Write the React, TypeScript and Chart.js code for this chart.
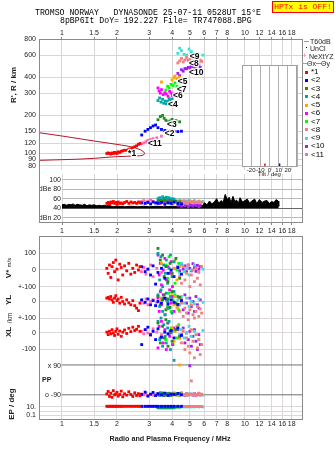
import React, { useEffect, useRef } from 'react';
import { Chart, registerables } from 'chart.js';
Chart.register(...registerables);

// ---------- data ----------
const titleLine1 = 'TROMSO NORWAY   DYNASONDE 25-07-11 0528UT 15°E';
const titleLine2 = '8pBP6It DoY= 192.227 File= TR747088.BPG';
const freqTicks = [1, 1.5, 2, 3, 4, 5, 6, 7, 8, 10, 12, 14, 16, 18];
const rangeTicks = [80, 90, 100, 120, 150, 200, 300, 400, 600, 800];
const dbTicks = [20, 40, 60, 80, 100];
const dbTickLabels = ['dBn 20', '40', '60', 'dBe 80', '100'];
const tiltTicks = [-30, -20, -10, 0, 10, 20, 30];

const seriesNames = ['*1', '<2', '<3', '<4', '<5', '<6', '<7', '<8', '<9', '<10', '<11'];
const seriesColors = ['#ff0000', '#0000ff', '#228b22', '#00a6a6', '#ffa500', '#ff00ff', '#00ff00', '#f08080', '#40e0d0', '#a020f0', '#ff69b4'];

// rows: [freq MHz, R' km, dBe, V* m/s, YL km, XL km, PP deg, EP deg]
const echoes1 = [
  [1.76, 100, 50, 10, 20, 5, -85, 14], [1.79, 101, 52, -20, 25, -10, -70, 14], [1.82, 100, 49, 30, 15, 10, -100, 14],
  [1.85, 99, 53, -45, 30, -5, -80, 14], [1.88, 101, 51, 20, 10, 20, -105, 14], [1.91, 100, 54, 45, -5, 0, -65, 14],
  [1.94, 102, 50, -10, 20, -15, -90, 14], [1.97, 101, 52, 60, 35, 10, -85, 14], [2.0, 100, 48, 5, 5, 25, -75, 14],
  [2.03, 103, 53, -60, 15, -8, -98, 14], [2.07, 102, 50, 35, -10, 12, -88, 14], [2.11, 104, 51, 15, 25, -20, -68, 14],
  [2.15, 105, 49, -30, 0, 5, -102, 14], [2.2, 106, 52, 25, -15, 18, -84, 14], [2.26, 106, 54, -5, 10, -3, -92, 14],
  [2.32, 108, 50, 40, -8, 28, -72, 14], [2.38, 109, 53, -25, -20, 8, -88, 14], [2.44, 111, 51, 10, 5, 35, -100, 14],
  [2.5, 113, 52, -15, -25, 15, -78, 14], [2.56, 115, 50, 30, -40, 22, -94, 14], [2.62, 118, 53, 0, -55, 40, -83, 14],
  [2.67, 120, 51, 20, -10, 10, -96, 14],
];
const echoes2 = [
  [2.73, 140, 51, 20, 10, -70, -88, 14], [2.85, 150, 50, -10, -5, 20, -74, 14], [2.95, 155, 52, 5, 15, 35, -98, 14],
  [3.05, 160, 49, -30, -20, -10, -86, 14], [3.15, 165, 53, 25, 5, 10, -76, 14], [3.25, 168, 51, -85, -25, -40, -95, 14],
  [3.35, 160, 50, -15, 0, 25, -84, 14], [3.5, 155, 52, 10, -10, -25, -90, 14], [3.65, 152, 48, -50, 20, 5, -80, 14],
  [3.8, 150, 51, -20, -15, -5, -94, 14], [3.95, 152, 50, 0, 10, 15, -86, 14], [4.1, 150, 53, -40, -5, -30, -88, 14],
  [4.3, 149, 50, 15, -18, 30, -82, 14], [4.5, 150, 49, -25, 5, -15, -90, 14],
];
const echoes3 = [
  [3.35, 185, 55, 130, 30, 60, -85, 10], [3.45, 196, 56, 60, -20, -60, -90, 10], [3.55, 200, 54, 90, 10, 40, -80, 10],
  [3.62, 190, 57, -40, 40, -30, -95, 10], [3.7, 183, 55, 20, -50, 80, -88, 10], [3.8, 178, 53, -70, 15, -80, -84, 10],
  [3.9, 181, 56, 40, -35, 10, -92, 10], [4.0, 186, 54, -20, 60, -50, -86, 10], [4.2, 182, 55, 70, -10, 20, -90, 10],
  [4.4, 178, 53, -50, 25, -20, -82, 10],
];
const echoes4 = [
  [3.35, 262, 60, 100, 40, 70, -85, 6], [3.42, 275, 62, -60, -30, -40, -92, 6], [3.48, 255, 58, 80, 70, 90, -80, 6],
  [3.55, 268, 64, -100, -60, -80, -88, 6], [3.6, 250, 61, 30, 20, 50, -95, 6], [3.67, 260, 59, -20, -80, -20, -84, 6],
  [3.72, 247, 63, 60, 50, -60, -90, 6], [3.78, 258, 60, -80, 0, 30, -86, 6], [3.85, 272, 62, 10, -40, 70, -82, 6],
  [3.92, 265, 58, 90, 30, -100, -94, 6], [4.0, 270, 60, -40, -70, 10, -88, 6], [4.1, 252, 59, 50, 60, -165, -85, 6],
];
const echoes5 = [
  [3.5, 368, 52, 40, 10, -20, -85, 12], [4.0, 382, 53, -30, 50, 30, -90, 12], [4.1, 398, 51, 10, -20, -50, -80, 12],
  [4.15, 410, 54, 60, 30, 10, -88, 12], [4.25, 392, 52, -60, -40, 40, -92, 12], [4.4, 400, 53, 20, 20, -30, 90, 12],
];
const echoes6 = [
  [3.35, 330, 52, 90, 20, -90, -85, 10], [3.4, 312, 55, -30, -60, 40, -92, 10], [3.45, 300, 50, 40, 60, -30, -78, 10],
  [3.5, 320, 54, -90, -20, 70, -88, 10], [3.58, 292, 56, 0, 40, -60, -95, 10], [3.65, 302, 51, 70, -80, 20, -84, 10],
  [3.72, 296, 53, -60, 10, -100, -90, 10], [3.8, 284, 55, 20, -40, 60, -82, 10], [3.88, 310, 52, -20, 70, -20, -94, 10],
  [3.95, 300, 54, 50, -10, 0, -86, 10], [4.02, 288, 50, -100, 30, -70, -90, 10], [4.1, 296, 53, 10, -60, 30, -80, 10],
];
const echoes7 = [
  [3.7, 318, 52, 30, 20, -40, -85, 10], [3.78, 340, 54, -50, -30, 60, -90, 10], [3.85, 330, 51, 80, 50, -10, -80, 10],
  [3.95, 352, 53, -10, -60, 30, -94, 10], [4.05, 345, 50, 50, 10, -70, -86, 10], [4.15, 362, 54, -80, 40, 20, -88, 10],
  [4.25, 340, 52, 0, -20, -30, -82, 10], [4.35, 372, 53, 40, -50, 50, -92, 10],
];
const echoes8 = [
  [4.3, 520, 53, 10, -30, 40, -85, 12], [4.4, 540, 52, -40, -60, -20, -90, 12], [4.5, 565, 55, -80, -10, -60, -80, 12],
  [4.6, 530, 51, 20, -90, 10, -88, 12], [4.7, 550, 54, -60, -40, -100, -94, 12], [4.8, 575, 50, -20, -70, -30, -84, 12],
  [4.9, 545, 53, 30, -110, -80, -92, 12], [5.0, 560, 55, -100, -50, -120, -86, 12], [5.1, 535, 52, -30, -20, 20, -6, 12],
  [5.2, 545, 54, 0, -80, -50, -90, 12], [5.3, 555, 51, -70, -100, -150, -82, 12], [5.4, 550, 53, 10, -60, -10, -94, 12],
  [5.5, 540, 52, -50, -30, -90, -88, 12], [5.6, 530, 54, -10, -90, -40, -80, 12], [5.7, 548, 51, -90, -45, -130, -92, 12],
  [5.8, 535, 53, 20, -70, -70, -86, 12],
];
const echoes9 = [
  [4.3, 620, 55, 20, 10, 30, -85, 10], [4.4, 680, 57, -20, -20, -10, -90, 10], [4.5, 650, 54, 40, 30, 20, -80, 10],
  [4.65, 610, 56, -10, -10, -30, -88, 10], [4.8, 600, 55, 10, 20, 0, -94, 10], [4.95, 670, 57, -30, -30, 40, -84, 10],
  [5.1, 640, 54, 0, 0, -20, -90, 10], [5.3, 620, 56, 30, -15, 10, -86, 10], [5.6, 610, 55, -15, 15, -40, -82, 10],
  [5.9, 600, 54, 5, -5, 15, -92, 10],
];
const echoes10 = [
  [4.3, 430, 46, 20, 30, 20, -85, 12], [4.4, 412, 48, -5, -20, -30, -92, 12], [4.5, 460, 44, 35, 10, -10, -80, 12],
  [4.6, 448, 50, 5, -50, 30, -88, 12], [4.7, 470, 45, 25, 40, -60, -95, 12], [4.8, 468, 47, -10, -10, 0, -84, 12],
  [4.9, 480, 43, 30, -70, -40, -90, 12], [5.0, 475, 49, 10, 20, 10, 85, 12], [5.1, 490, 46, -5, -30, -80, -86, 12],
  [5.2, 485, 44, 38, 0, -20, -92, 12], [5.3, 470, 48, 15, -60, 20, -82, 12], [5.4, 472, 45, -8, 30, -50, -94, 12],
  [5.5, 495, 47, 28, -20, -100, -88, 12], [5.6, 500, 43, 5, -40, -10, -84, 12], [5.7, 480, 46, 20, 10, -70, -90, 12],
];
const echoes11 = [
  [2.72, 119, 54, -10, 5, 10, -85, 12], [2.8, 121, 56, 15, -10, -5, -90, 12], [2.88, 124, 53, -25, 15, 20, -80, 12],
  [2.95, 127, 55, 5, -20, 0, -95, 12], [3.05, 129, 57, 30, 0, -15, -88, 12], [3.15, 131, 54, -40, 10, 25, -92, 12],
  [3.3, 133, 52, 10, -5, 5, -84, 12], [3.5, 137, 53, -15, 20, -10, -90, 12],
];
const allEchoes = [echoes1, echoes2, echoes3, echoes4, echoes5, echoes6, echoes7, echoes8, echoes9, echoes10, echoes11];

// cluster label anchor [freq, R']
const labelAnchors = [[2.3, 100], [3.65, 143], [3.75, 170], [3.8, 244], [4.3, 367], [4.05, 286], [4.25, 322], [4.95, 514], [5.0, 585], [4.95, 434], [2.95, 120]];

// model trace (freq, R')
const traceFreq = [0.75, 1.0, 1.5, 2.0, 2.27, 2.5, 2.7, 2.8, 2.83, 2.8, 2.7, 2.5, 2.25, 2.0, 1.83, 1.5, 1.2, 1.0, 0.75];
const traceRange = [146, 137.5, 125.5, 118, 114.6, 111, 106.7, 103, 100, 97.5, 96, 95.5, 95, 94.3, 93.6, 91.5, 90, 89.3, 88.2];

// noise amplitude (freq, dB)
const noiseFreq = [1.0, 1.03, 1.06, 1.09, 1.12, 1.15, 1.18, 1.21, 1.25, 1.29, 1.33, 1.37, 1.41, 1.45, 1.5, 1.55, 1.6, 1.65, 1.7, 1.75, 1.8, 1.9, 2.0, 2.2, 2.4, 2.6, 2.8, 3.0, 3.3, 3.6, 4.0, 4.5, 5.0, 5.5, 5.9, 6.0, 6.2, 6.4, 6.6, 6.8, 7.0, 7.2, 7.4, 7.6, 7.8, 8.0, 8.2, 8.4, 8.6, 8.8, 9.0, 9.2, 9.4, 9.7, 10.0, 10.3, 10.6, 10.9, 11.3, 11.6, 12.0, 12.4, 12.8, 13.2, 13.6, 14.0, 14.4, 14.8, 15.2, 15.3];
const noiseDb = [47, 48, 46, 48, 47, 49, 46, 48, 47, 46, 48, 45, 47, 46, 47, 45, 46, 45, 46, 45, 46, 43, 44, 43, 44, 43, 44, 43, 44, 43, 44, 43, 44, 45, 46, 52, 47, 55, 49, 53, 60, 50, 56, 52, 69, 58, 63, 52, 65, 54, 57, 50, 62, 53, 56, 59, 51, 55, 59, 50, 58, 52, 55, 56, 50, 54, 52, 58, 55, 44];

const tiltValues = [-5, 11];
const tiltColors = ['#ff0000', '#0000ff'];

// lower panel stacking (V*, YL, XL, PP, EP share one axis)
const vOffset = 380, ylOffset = 190, xlOffset = 0, ppOffset = -283, epOffset = -470.8, epScale = 24.8;
const lowerTicks = [480, 380, 280, 190, 90, 0, -100, -446, -470.8, -495.6];
const lowerTickLabels = ['100', '0', '+-100', '0', '+-100', '0', '-100', '10.', '', '0.1'];

// ---------- helpers ----------
const FONT = 'Liberation Sans';
const tickFont = { family: FONT, size: 7 };
const epToU = (ep: number) => epOffset + epScale * Math.log10(ep);

function freqAxis(min: number, position: string, height: number, drawTicks: boolean, tickLength: number, padding: number, gridColor: string) {
  return {
    type: 'logarithmic', position, min, max: 20.5,
    afterBuildTicks: (s: any) => { s.ticks = freqTicks.map((v) => ({ value: v })); },
    afterFit: (s: any) => { s.height = height; s.paddingLeft = 0; s.paddingRight = 0; },
    ticks: { callback: (v: any) => String(v), font: tickFont, color: '#222', autoSkip: false, maxRotation: 0, minRotation: 0, padding },
    grid: { color: gridColor, drawTicks, tickLength, tickColor: '#888' },
    border: { display: false },
  };
}

const basePlugins = { legend: { display: false }, tooltip: { enabled: false } };

const echoPoint = (color: string, r: number) => ({ backgroundColor: color, borderWidth: 0, pointStyle: 'rect', pointRadius: r, pointHoverRadius: r, order: 0 });

function rangeConfig(): any {
  const labelPlugin = {
    id: 'clusterLabels',
    afterDatasetsDraw(chart: any) {
      const { ctx, scales } = chart;
      ctx.save();
      ctx.font = `bold 8.5px "${FONT}"`;
      ctx.textBaseline = 'middle';
      ctx.lineJoin = 'round';
      ctx.lineWidth = 2.5;
      ctx.strokeStyle = '#fff';
      ctx.fillStyle = '#000';
      labelAnchors.forEach(([f, r], i) => {
        const px = scales.x.getPixelForValue(f);
        const py = scales.y.getPixelForValue(r);
        ctx.strokeText(seriesNames[i], px, py);
        ctx.fillText(seriesNames[i], px, py);
      });
      ctx.restore();
    },
  };
  return {
    type: 'scatter',
    data: {
      datasets: [
        ...allEchoes.map((rows, i) => ({ data: rows.map((r) => ({ x: r[0], y: r[1] })), ...echoPoint(seriesColors[i], 2) })),
        { type: 'line', data: traceFreq.map((f, i) => ({ x: f, y: traceRange[i] })), borderColor: '#b4182c', borderWidth: 1, pointRadius: 0, fill: false, order: 1 },
      ],
    },
    options: {
      responsive: false, animation: false, events: [],
      layout: { padding: { right: 33, left: 0, top: 0, bottom: 0 } },
      plugins: basePlugins,
      scales: {
        x: freqAxis(0.75, 'top', 39, true, 2, 0, '#d6d6d6'),
        y: {
          type: 'logarithmic', min: 74, max: 805,
          afterBuildTicks: (s: any) => { s.ticks = rangeTicks.map((v) => ({ value: v })); },
          afterFit: (s: any) => { s.width = 39; s.paddingTop = 0; s.paddingBottom = 0; },
          ticks: { callback: (v: any) => String(v), font: tickFont, color: '#222', padding: 3, autoSkip: false },
          grid: { color: '#d6d6d6', drawTicks: false },
          border: { display: false },
        },
      },
    },
    plugins: [labelPlugin],
  };
}

function dbConfig(): any {
  return {
    type: 'scatter',
    data: {
      datasets: [
        ...allEchoes.map((rows, i) => ({ data: rows.map((r) => ({ x: r[0], y: r[2] })), ...echoPoint(seriesColors[i], 2) })),
        { type: 'line', data: noiseFreq.map((f, i) => ({ x: f, y: noiseDb[i] })), borderColor: '#000', backgroundColor: '#000', borderWidth: 1, pointRadius: 0, fill: { value: 40 }, order: 1 },
      ],
    },
    options: {
      responsive: false, animation: false, events: [],
      layout: { padding: { right: 33, left: 0, top: 0, bottom: 0 } },
      plugins: basePlugins,
      scales: {
        x: freqAxis(1.0, 'bottom', 14, true, 3, 2, '#d6d6d6'),
        y: {
          type: 'linear', min: 10.8, max: 112,
          afterBuildTicks: (s: any) => { s.ticks = dbTicks.map((v) => ({ value: v })); },
          afterFit: (s: any) => { s.width = 62; s.paddingTop = 0; s.paddingBottom = 0; },
          ticks: { callback: (v: any) => dbTickLabels[dbTicks.indexOf(v)], font: tickFont, color: '#222', padding: 1, autoSkip: false },
          grid: { color: (c: any) => (c.tick && c.tick.value === 40 ? '#666' : c.tick && c.tick.value === 20 ? '#b4b4e6' : '#b8b8b8'), drawTicks: false },
          border: { display: false },
        },
      },
    },
  };
}

function lowerConfig(): any {
  return {
    type: 'scatter',
    data: {
      datasets: [
        ...allEchoes.map((rows, i) => ({
          data: rows.flatMap((r) => [
            { x: r[0], y: vOffset + r[3] },
            { x: r[0], y: ylOffset + r[4] },
            { x: r[0], y: xlOffset + r[5] },
            { x: r[0], y: ppOffset + r[6] },
            { x: r[0], y: epToU(r[7]) },
          ]),
          ...echoPoint(seriesColors[i], 2),
        })),
        { type: 'line', data: [{ x: 1, y: ppOffset + 90 }, { x: 20.5, y: ppOffset + 90 }], borderColor: '#707070', borderWidth: 1, pointRadius: 0, order: 1 },
        { type: 'line', data: [{ x: 1, y: ppOffset - 90 }, { x: 20.5, y: ppOffset - 90 }], borderColor: '#707070', borderWidth: 1, pointRadius: 0, order: 1 },
      ],
    },
    options: {
      responsive: false, animation: false, events: [],
      layout: { padding: { right: 33, left: 0, top: 0, bottom: 0 } },
      plugins: basePlugins,
      scales: {
        x: freqAxis(0.75, 'bottom', 32, false, 0, 1, '#ddd6dd'),
        y: {
          type: 'linear', min: -519, max: 573,
          afterBuildTicks: (s: any) => { s.ticks = lowerTicks.map((v) => ({ value: v })); },
          afterFit: (s: any) => { s.width = 39; s.paddingTop = 0; s.paddingBottom = 0; },
          ticks: { callback: (v: any) => lowerTickLabels[lowerTicks.indexOf(v)], font: tickFont, color: '#222', padding: 3, autoSkip: false },
          grid: { color: '#ddd6dd', drawTicks: false },
          border: { display: false },
        },
      },
    },
  };
}

function tiltConfig(): any {
  const boxPlugin = {
    id: 'tiltBox',
    beforeDraw(chart: any) {
      const { ctx, chartArea: a } = chart;
      ctx.save();
      ctx.fillStyle = '#fff';
      ctx.fillRect(a.left, a.top, a.right - a.left, a.bottom - a.top);
      ctx.restore();
    },
    afterDraw(chart: any) {
      const { ctx, chartArea: a } = chart;
      ctx.save();
      ctx.strokeStyle = '#a0a0a0';
      ctx.lineWidth = 1;
      ctx.strokeRect(Math.round(a.left) + 0.5, Math.round(a.top) + 0.5, Math.round(a.right - a.left) - 1, Math.round(a.bottom - a.top) - 1);
      ctx.restore();
    },
  };
  return {
    type: 'scatter',
    data: {
      datasets: tiltValues.map((t, i) => ({ type: 'line', data: [{ x: t, y: 0 }, { x: t, y: 0.035 }], borderColor: tiltColors[i], borderWidth: 1.5, pointRadius: 0 })),
    },
    options: {
      responsive: false, animation: false, events: [],
      layout: { padding: { left: 12, right: 13, top: 5, bottom: 0 } },
      plugins: basePlugins,
      scales: {
        x: {
          type: 'linear', min: -30, max: 30,
          afterBuildTicks: (s: any) => { s.ticks = tiltTicks.map((v) => ({ value: v })); },
          afterFit: (s: any) => { s.height = 11; s.paddingLeft = 0; s.paddingRight = 0; },
          ticks: { callback: (v: any) => (Math.abs(v) === 30 ? '' : String(v)), font: { family: FONT, size: 6 }, color: '#222', padding: 0, maxRotation: 0, autoSkip: false },
          grid: { color: '#b0b0b0', drawTicks: false },
          border: { display: false },
          title: { display: true, text: 'Tilt / deg', font: { family: FONT, size: 6 }, color: '#222', padding: 0 },
        },
        y: { display: false, min: 0, max: 1 },
      },
    },
    plugins: [boxPlugin],
  };
}

function ChartCanvas({ left, top, width, height, config }: any) {
  const ref = useRef<HTMLCanvasElement>(null);
  useEffect(() => {
    const chart = new Chart(ref.current as HTMLCanvasElement, config());
    return () => chart.destroy();
  }, []);
  return <canvas ref={ref} width={width} height={height} style={{ position: 'absolute', left, top, width, height }} />;
}

function Txt({ x, y, children, size = 7, align = 'left', weight = 'normal', family = FONT, color = '#222', rotate = false }: any) {
  const tx = align === 'left' ? '0' : align === 'right' ? '-100%' : '-50%';
  return (
    <div style={{
      position: 'absolute', left: x, top: y, transform: `translate(${tx}, -50%)${rotate ? ' rotate(-90deg)' : ''}`,
      fontSize: size, fontFamily: `"${family}", sans-serif`, fontWeight: weight, color, whiteSpace: 'pre', lineHeight: 1,
    }}>{children}</div>
  );
}

export default function App() {
  return (
    <div style={{ position: 'fixed', left: 0, top: 0, width: 335, height: 451, background: '#fff', overflow: 'hidden' }}>
      <ChartCanvas left={0} top={0} width={335} height={172} config={rangeConfig} />
      <ChartCanvas left={0} top={172} width={335} height={64} config={dbConfig} />
      <ChartCanvas left={0} top={236} width={335} height={215} config={lowerConfig} />
      <ChartCanvas left={230} top={60} width={80} height={118} config={tiltConfig} />

      <div style={{ position: 'absolute', left: 39, top: 39, width: 264, height: 184, border: '1px solid #8a8a8a', boxSizing: 'border-box' }} />
      <div style={{ position: 'absolute', left: 39, top: 236, width: 264, height: 184, border: '1px solid #8a8a8a', boxSizing: 'border-box' }} />

      <Txt x={35} y={12.5} size={8.2} family="Liberation Mono" color="#000">{titleLine1}</Txt>
      <Txt x={60} y={20.5} size={8.2} family="Liberation Mono" color="#000">{titleLine2}</Txt>
      <div style={{ position: 'absolute', left: 272, top: 1, width: 62, height: 12, background: '#ffff00', border: '1px solid #ff0000', boxSizing: 'border-box', color: '#ff0000', fontFamily: '"Liberation Mono", monospace', fontSize: 8, lineHeight: '10px', textAlign: 'center', whiteSpace: 'pre' }}>HPTx is OFF!</div>

      <Txt x={14} y={85} size={8} weight="bold" rotate align="center">R', R / km</Txt>
      <Txt x={9} y={268} size={8} weight="bold" rotate align="center">V* <span style={{ fontSize: 6, fontWeight: 'normal' }}>m/s</span></Txt>
      <Txt x={9} y={300} size={8} weight="bold" rotate align="center">YL</Txt>
      <Txt x={10} y={318} size={6.5} rotate align="center">/km</Txt>
      <Txt x={9} y={332} size={8} weight="bold" rotate align="center">XL</Txt>
      <Txt x={12} y={404} size={8} weight="bold" rotate align="center">EP / deg</Txt>
      <Txt x={42} y={379} size={7} weight="bold">PP</Txt>
      <Txt x={61} y={365} size={7} align="right">x 90</Txt>
      <Txt x={61} y={394} size={7} align="right">o -90</Txt>
      <Txt x={170} y={439} size={7.2} weight="bold" align="center">Radio and Plasma Frequency / MHz</Txt>

      <div style={{ position: 'absolute', left: 304, top: 41, width: 5, height: 1, background: '#999' }} />
      <Txt x={310} y={41} size={7}>T60dB</Txt>
      <div style={{ position: 'absolute', left: 306, top: 47, width: 1, height: 1, background: '#000' }} />
      <Txt x={310} y={48} size={7}>UnCl</Txt>
      <Txt x={302} y={55.5} size={8} color="#ff69b4">+</Txt>
      <Txt x={309} y={55.5} size={7}>NeXtYZ</Txt>
      <div style={{ position: 'absolute', left: 302, top: 63, width: 5, height: 1, background: '#f08080' }} />
      <Txt x={307} y={63} size={7}>Θx</Txt>
      <div style={{ position: 'absolute', left: 316, top: 63, width: 5, height: 1, background: '#8080ff' }} />
      <Txt x={321} y={63} size={7}>Θy</Txt>
      {seriesNames.map((n, i) => (
        <React.Fragment key={n}>
          <div style={{ position: 'absolute', left: 305, top: 72 + i * 8.25 - 1.5, width: 3, height: 3, background: seriesColors[i] }} />
          <Txt x={311} y={72 + i * 8.25} size={8} color="#000">{n}</Txt>
        </React.Fragment>
      ))}
    </div>
  );
}
